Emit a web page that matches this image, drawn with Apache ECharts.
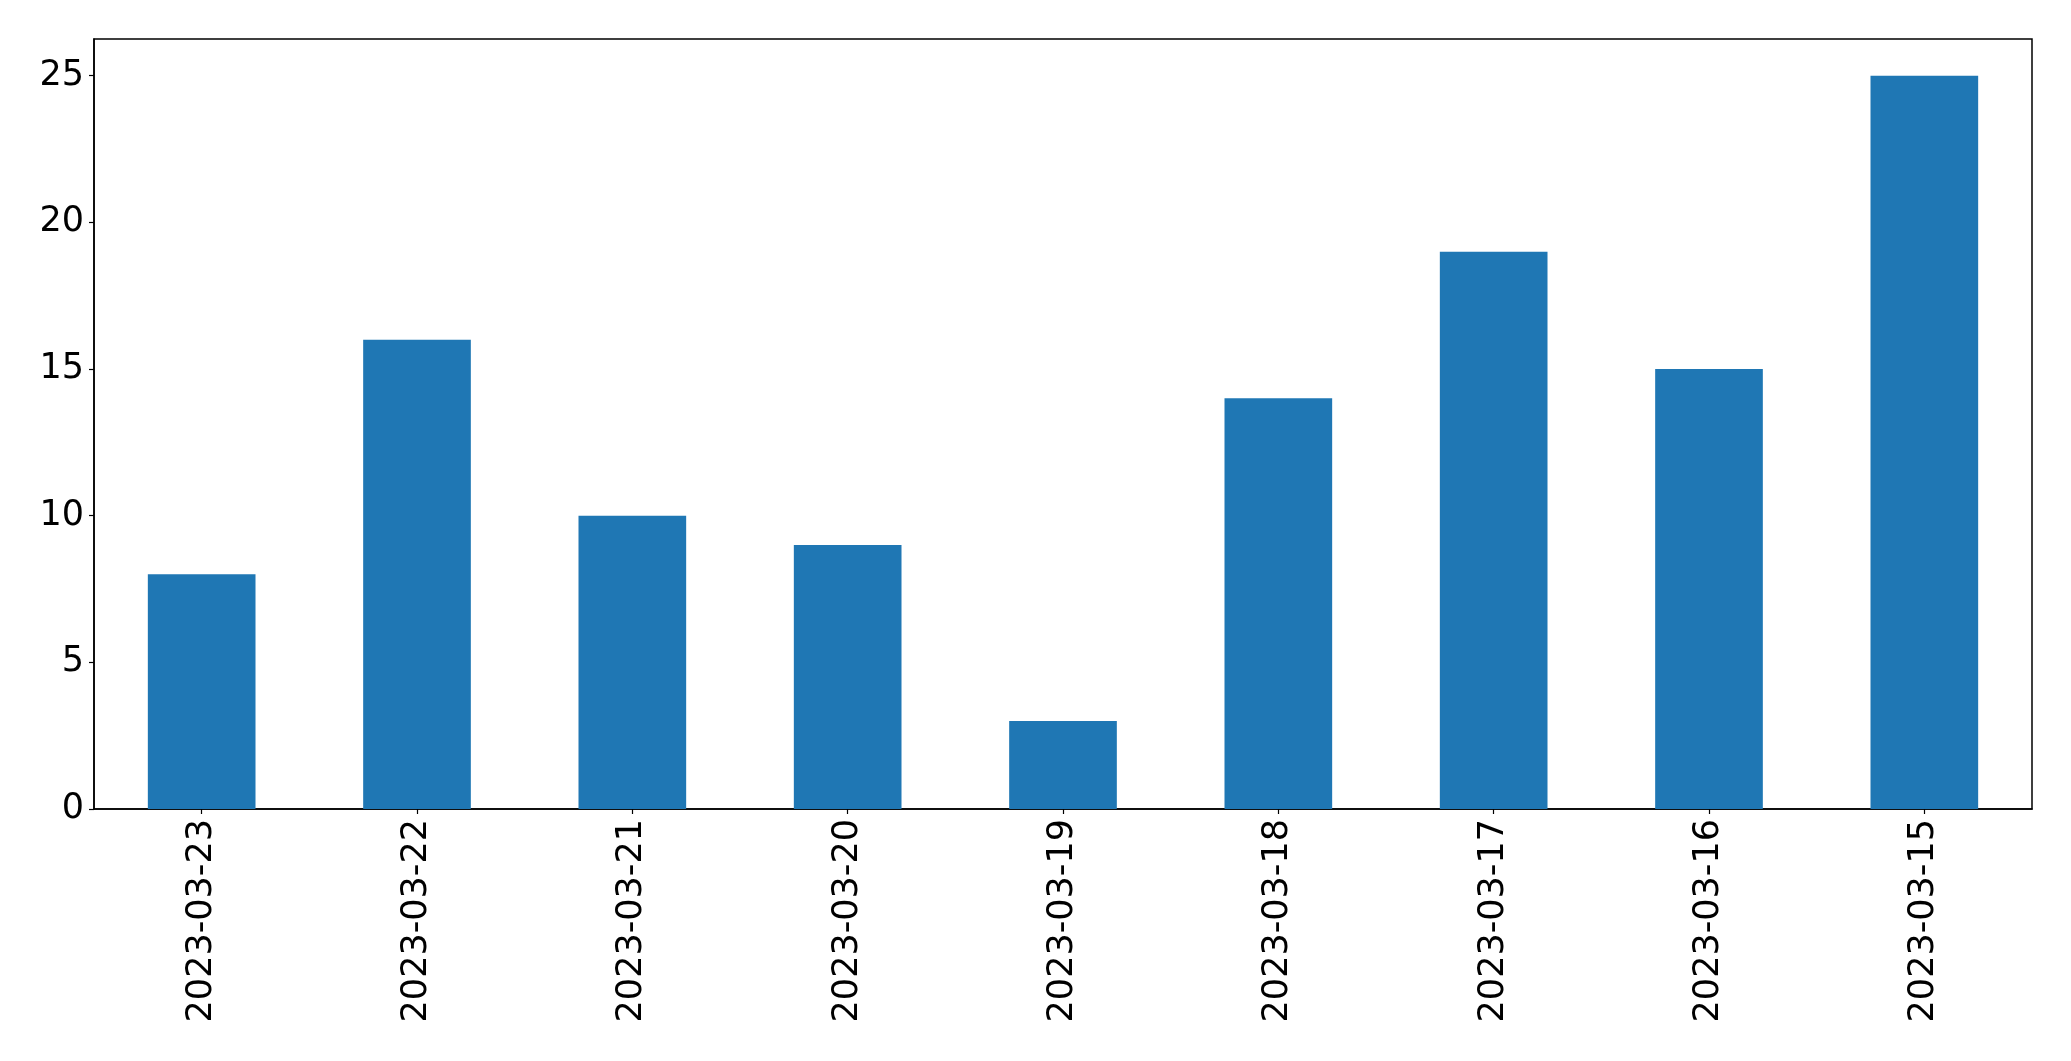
<!DOCTYPE html>
<html>
<head>
<meta charset="utf-8">
<script src="https://cdn.jsdelivr.net/npm/echarts@6/dist/echarts.min.js"></script>
<style>
html,body{margin:0;padding:0;background:#fff;}
#c{width:2071px;height:1061px;}
</style>
</head>
<body>
<div id="c"></div>
<script>
const categories = ['2023-03-23','2023-03-22','2023-03-21','2023-03-20','2023-03-19','2023-03-18','2023-03-17','2023-03-16','2023-03-15'];
const values = [8,16,10,9,3,14,19,15,25];
const yTicks = [0,5,10,15,20,25];

const chart = echarts.init(document.getElementById('c'), null, {renderer:'canvas'});
const font = 'DejaVu Sans';
chart.setOption({
  animation:false,
  backgroundColor:'#fff',
  grid:{left:94,right:39,top:39,bottom:252,show:true,borderColor:'#000',borderWidth:1.5,containLabel:false},
  xAxis:{
    type:'category',
    data:categories,
    axisLine:{show:true,lineStyle:{color:'#000',width:1.5}},
    axisTick:{show:true,alignWithLabel:true,length:5,lineStyle:{color:'#000',width:1.2}},
    axisLabel:{rotate:90,color:'#000',fontFamily:font,fontSize:35,margin:10,interval:0},
    splitLine:{show:false}
  },
  yAxis:{
    type:'value',
    min:0,max:26.25,
    axisLine:{show:true,lineStyle:{color:'#000',width:1.5}},
    axisTick:{show:true,length:5,lineStyle:{color:'#000',width:1.2},customValues:yTicks},
    axisLabel:{color:'#000',fontFamily:font,fontSize:35,margin:10,customValues:yTicks},
    splitLine:{show:false}
  },
  series:[{
    type:'bar',
    data:values,
    barWidth:'50%',
    itemStyle:{color:'#1f77b4'}
  }]
});
</script>
</body>
</html>
